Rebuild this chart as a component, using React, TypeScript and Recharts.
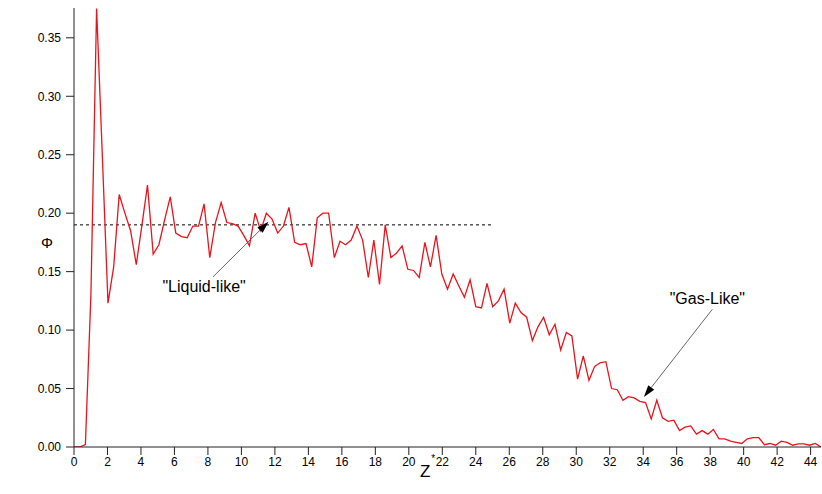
import React from 'react';
import { LineChart, Line, XAxis, YAxis, ReferenceLine, ReferenceDot } from 'recharts';

// Reduced height Z* (sample positions)
const zValues = [
  0, 0.34, 0.68, 1.01, 1.35, 1.69, 2.03, 2.37, 2.70, 3.04,
  3.38, 3.72, 4.06, 4.39, 4.73, 5.07, 5.41, 5.75, 6.08, 6.42,
  6.76, 7.10, 7.44, 7.77, 8.11, 8.45, 8.79, 9.13, 9.46, 9.80,
  10.14, 10.48, 10.82, 11.15, 11.49, 11.83, 12.17, 12.51, 12.84, 13.18,
  13.52, 13.86, 14.20, 14.53, 14.87, 15.21, 15.55, 15.89, 16.22, 16.56,
  16.90, 17.24, 17.58, 17.91, 18.25, 18.59, 18.93, 19.27, 19.60, 19.94,
  20.28, 20.62, 20.96, 21.29, 21.63, 21.97, 22.31, 22.65, 22.98, 23.32,
  23.66, 24.00, 24.34, 24.67, 25.01, 25.35, 25.69, 26.03, 26.36, 26.70,
  27.04, 27.38, 27.72, 28.05, 28.39, 28.73, 29.07, 29.41, 29.74, 30.08,
  30.42, 30.76, 31.10, 31.43, 31.77, 32.11, 32.45, 32.79, 33.12, 33.46,
  33.80, 34.14, 34.48, 34.81, 35.15, 35.49, 35.83, 36.17, 36.50, 36.84,
  37.18, 37.52, 37.86, 38.19, 38.53, 38.87, 39.21, 39.55, 39.88, 40.22,
  40.56, 40.90, 41.24, 41.57, 41.91, 42.25, 42.59, 42.93, 43.26, 43.60,
  43.94, 44.28, 44.62,
];

// Volume fraction Phi
const phiValues = [
  0.000, 0.000, 0.002, 0.130, 0.375, 0.250, 0.123, 0.154, 0.216, 0.200,
  0.185, 0.156, 0.190, 0.224, 0.165, 0.173, 0.194, 0.214, 0.183, 0.180,
  0.179, 0.189, 0.189, 0.208, 0.162, 0.192, 0.209, 0.192, 0.191, 0.189,
  0.181, 0.172, 0.200, 0.185, 0.200, 0.195, 0.183, 0.189, 0.205, 0.175,
  0.173, 0.174, 0.154, 0.196, 0.200, 0.200, 0.162, 0.176, 0.173, 0.177,
  0.189, 0.177, 0.145, 0.177, 0.139, 0.190, 0.162, 0.166, 0.172, 0.152,
  0.151, 0.145, 0.175, 0.154, 0.181, 0.148, 0.135, 0.148, 0.138, 0.128,
  0.143, 0.120, 0.119, 0.140, 0.120, 0.125, 0.135, 0.106, 0.123, 0.115,
  0.111, 0.091, 0.103, 0.111, 0.096, 0.105, 0.083, 0.098, 0.095, 0.058,
  0.078, 0.057, 0.069, 0.072, 0.073, 0.050, 0.049, 0.040, 0.043, 0.042,
  0.039, 0.038, 0.024, 0.040, 0.025, 0.022, 0.023, 0.014, 0.017, 0.018,
  0.011, 0.014, 0.011, 0.015, 0.007, 0.007, 0.005, 0.004, 0.003, 0.007,
  0.008, 0.008, 0.002, 0.003, 0.0015, 0.005, 0.004, 0.0015, 0.0026, 0.0026,
  0.0015, 0.003, 0.000,
];

const xTicks = [0, 2, 4, 6, 8, 10, 12, 14, 16, 18, 20, 22, 24, 26, 28, 30, 32, 34, 36, 38, 40, 42, 44];
const yTicks = [0, 0.05, 0.1, 0.15, 0.2, 0.25, 0.3, 0.35];

const liquidLevel = 0.19;
const liquidLevelEnd = 25;

const liquidArrow = [{ x: 8.3, y: 0.1455 }, { x: 11.62, y: 0.1927 }];
const gasArrow = [{ x: 38.13, y: 0.1178 }, { x: 34.04, y: 0.0428 }];
const liquidLabel = { x: 7.77, y: 0.1373, text: '"Liquid-like"' };
const gasLabel = { x: 37.83, y: 0.1272, text: '"Gas-Like"' };

const data = zValues.map((z, i) => ({ z, phi: phiValues[i] }));

const FONT = 'Arial, "Liberation Sans", sans-serif';

const ArrowShape = (props: any) => {
  const { x1, y1, x2, y2 } = props;
  const dx = x2 - x1;
  const dy = y2 - y1;
  const len = Math.sqrt(dx * dx + dy * dy) || 1;
  const ux = dx / len;
  const uy = dy / len;
  const hl = 12;
  const hw = 3.8;
  const bx = x2 - ux * hl;
  const by = y2 - uy * hl;
  const p1 = `${x2},${y2}`;
  const p2 = `${bx - uy * hw},${by + ux * hw}`;
  const p3 = `${bx + uy * hw},${by - ux * hw}`;
  return (
    <g>
      <line x1={x1} y1={y1} x2={bx} y2={by} stroke="#555" strokeWidth={0.9} />
      <polygon points={`${p1} ${p2} ${p3}`} fill="#000" />
    </g>
  );
};

const XLabel = (props: any) => {
  const vb = props.viewBox || { x: 0, y: 0, width: 0, height: 0 };
  const cx = vb.x + vb.width * 0.47;
  return (
    <g>
      <text x={cx} y={vb.y + 30} textAnchor="middle" fontSize={17} fontFamily={FONT} fill="#000">Z</text>
      <text x={cx + 8} y={vb.y + 15} textAnchor="middle" fontSize={10} fontFamily={FONT} fill="#000">*</text>
    </g>
  );
};

const YLabel = () => (
  <text x={47} y={248} textAnchor="middle" fontSize={15} fontFamily={FONT} fill="#000">Φ</text>
);

export default function App() {
  return (
    <div style={{ position: 'absolute', left: 0, top: 0, width: 822, height: 494, background: '#fff' }}>
      <LineChart width={822} height={494} data={data} margin={{ top: 8, right: 1, bottom: 0, left: 0 }}>
        <XAxis
          dataKey="z"
          type="number"
          domain={[0, 44.62]}
          ticks={xTicks}
          interval={0}
          tickSize={8}
          tickMargin={2}
          height={47}
          stroke="#222"
          tick={{ fill: '#000', fontSize: 12, fontFamily: FONT }}
          label={<XLabel />}
          allowDataOverflow
        />
        <YAxis
          type="number"
          domain={[0, 0.3755]}
          ticks={yTicks}
          interval={0}
          tickSize={8}
          tickMargin={5}
          width={74}
          stroke="#222"
          tickFormatter={(v: number) => v.toFixed(2)}
          tick={{ fill: '#000', fontSize: 12, fontFamily: FONT }}
          label={<YLabel />}
          allowDataOverflow
        />
        <ReferenceLine
          segment={[{ x: 0, y: liquidLevel }, { x: liquidLevelEnd, y: liquidLevel }]}
          stroke="#000"
          strokeWidth={1}
          strokeDasharray="3 3"
        />
        <Line
          type="linear"
          dataKey="phi"
          stroke="#e8141c"
          strokeWidth={1.3}
          dot={false}
          isAnimationActive={false}
        />
        <ReferenceLine segment={liquidArrow} shape={ArrowShape} />
        <ReferenceLine segment={gasArrow} shape={ArrowShape} />
        <ReferenceDot
          x={liquidLabel.x}
          y={liquidLabel.y}
          r={0}
          fill="none"
          stroke="none"
          label={{ value: liquidLabel.text, position: 'center', fontSize: 16, fontFamily: FONT, fill: '#000' }}
        />
        <ReferenceDot
          x={gasLabel.x}
          y={gasLabel.y}
          r={0}
          fill="none"
          stroke="none"
          label={{ value: gasLabel.text, position: 'center', fontSize: 16, fontFamily: FONT, fill: '#000' }}
        />
      </LineChart>
    </div>
  );
}
